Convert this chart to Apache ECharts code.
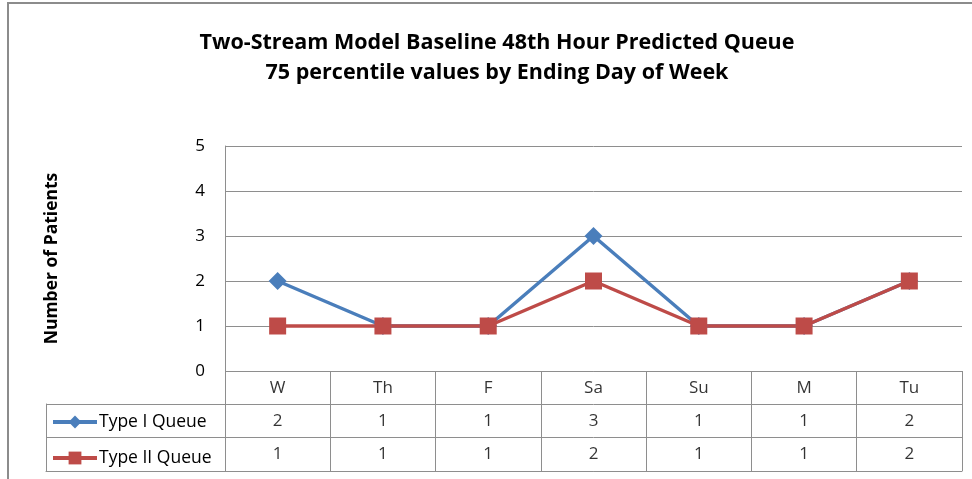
<!DOCTYPE html>
<html>
<head>
<meta charset="utf-8">
<script src="https://cdn.jsdelivr.net/npm/echarts@6/dist/echarts.min.js"></script>
<style>
  html, body { margin: 0; padding: 0; background: #fff; }
  #chart { width: 972px; height: 479px; }
</style>
</head>
<body>
<div id="chart"></div>
<script>
// data
const categories = ['W', 'Th', 'F', 'Sa', 'Su', 'M', 'Tu'];
const typeOne = [2, 1, 1, 3, 1, 1, 2];
const typeTwo = [1, 1, 1, 2, 1, 1, 2];
const seriesNames = ['Type I Queue', 'Type II Queue'];
const yMin = 0;
const yMax = 5;
const yStep = 1;

const gridColor = '#8e8e8e';
const font = 'Open Sans';

// cells of the data table: [column, row, text]
const cells = [];
categories.forEach((c, i) => {
    cells.push([i, 0, c]);
    cells.push([i, 1, typeOne[i]]);
    cells.push([i, 2, typeTwo[i]]);
});

const hidden = { show: false };
const tableLine = { show: true, lineStyle: { color: gridColor, width: 1 } };

const chart = echarts.init(document.getElementById('chart'));
chart.setOption({
    animation: false,
    title: {
        text: 'Two-Stream Model Baseline 48th Hour Predicted Queue\n75 percentile values by Ending Day of Week',
        left: 492,
        top: 23,
        textAlign: 'center',
        textStyle: {
            fontFamily: font,
            fontSize: 21.5,
            fontWeight: 'bold',
            color: '#000',
            lineHeight: 30
        }
    },
    legend: {
        data: seriesNames,
        orient: 'vertical',
        left: 51,
        top: 413,
        itemWidth: 44,
        itemHeight: 16,
        itemGap: 18,
        padding: 0,
        textStyle: { fontFamily: font, fontSize: 17.5, color: '#000', padding: [0, 0, 0, -3] },
        lineStyle: { width: 4 }
    },
    grid: [
        // plot
        { left: 225, top: 146, width: 737, height: 225 },
        // data table
        { left: 225, top: 371, width: 737, height: 100 },
        // legend column of the table
        { left: 46, top: 404, width: 179, height: 67 }
    ],
    xAxis: [
        {
            gridIndex: 0,
            type: 'category',
            data: categories,
            axisLine: hidden,
            axisTick: hidden,
            axisLabel: hidden
        },
        {
            gridIndex: 1,
            type: 'category',
            data: categories,
            axisLine: tableLine,
            axisTick: hidden,
            axisLabel: hidden,
            splitLine: tableLine
        },
        {
            gridIndex: 2,
            type: 'category',
            data: [''],
            axisLine: tableLine,
            axisTick: hidden,
            axisLabel: hidden,
            splitLine: tableLine
        }
    ],
    yAxis: [
        {
            gridIndex: 0,
            type: 'value',
            min: yMin,
            max: yMax,
            interval: yStep,
            name: 'Number of Patients',
            nameLocation: 'middle',
            nameGap: 164,
            nameTextStyle: { fontFamily: font, fontSize: 17.5, fontWeight: 'bold', color: '#000' },
            axisLine: { show: true, lineStyle: { color: gridColor, width: 1 } },
            axisTick: hidden,
            axisLabel: { fontFamily: font, fontSize: 17, color: '#000', margin: 20 },
            splitLine: { show: true, lineStyle: { color: gridColor, width: 1 } }
        },
        {
            gridIndex: 1,
            type: 'category',
            inverse: true,
            data: ['', seriesNames[0], seriesNames[1]],
            axisLine: tableLine,
            axisTick: hidden,
            axisLabel: hidden,
            splitLine: tableLine
        },
        {
            gridIndex: 2,
            type: 'category',
            inverse: true,
            data: seriesNames,
            axisLine: tableLine,
            axisTick: hidden,
            axisLabel: hidden,
            splitLine: tableLine
        }
    ],
    series: [
        {
            name: seriesNames[0],
            type: 'line',
            data: typeOne,
            symbol: 'diamond',
            symbolSize: 18,
            itemStyle: { color: '#4A7EBB' },
            lineStyle: { color: '#4A7EBB', width: 3.5 }
        },
        {
            name: seriesNames[1],
            type: 'line',
            data: typeTwo,
            symbol: 'rect',
            symbolSize: 17,
            itemStyle: { color: '#BE4B48' },
            lineStyle: { color: '#BE4B48', width: 3.5 }
        },
        {
            type: 'scatter',
            xAxisIndex: 1,
            yAxisIndex: 1,
            data: cells,
            symbolSize: 1,
            itemStyle: { color: 'rgba(0,0,0,0)' },
            silent: true,
            label: {
                show: true,
                position: 'inside',
                formatter: p => String(p.value[2]),
                fontFamily: font,
                fontSize: 17,
                color: '#000'
            }
        }
    ],
    graphic: [
        {
            type: 'rect',
            shape: { x: 8, y: 3, width: 1000, height: 520 },
            style: { fill: 'none', stroke: '#8c8c8c', lineWidth: 2 },
            silent: true
        }
    ]
});
</script>
</body>
</html>
